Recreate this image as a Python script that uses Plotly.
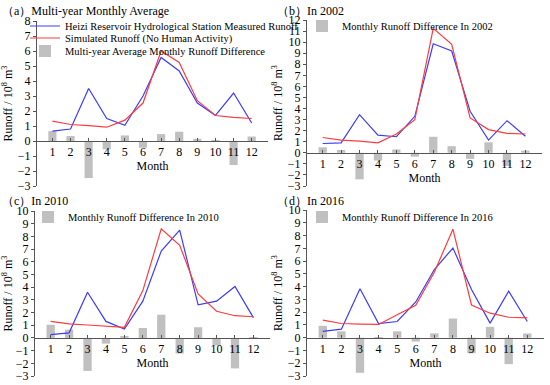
import plotly.graph_objects as go

months = list(range(1, 13))

a_meas = [0.66, 0.80, 3.50, 1.50, 1.05, 3.00, 5.57, 4.67, 2.53, 1.70, 3.20, 1.20]
a_sim = [1.32, 1.10, 1.03, 0.92, 1.39, 2.53, 6.00, 5.24, 2.69, 1.70, 1.58, 1.50]
a_diff = [0.66, 0.33, -2.47, -0.55, 0.37, -0.45, 0.46, 0.62, 0.15, 0.02, -1.60, 0.30]

b_meas = [0.84, 0.90, 3.45, 1.60, 1.45, 3.30, 9.85, 9.20, 3.75, 1.15, 2.90, 1.50]
b_sim = [1.38, 1.15, 1.05, 0.90, 1.70, 3.00, 11.25, 9.80, 3.15, 2.10, 1.75, 1.70]
b_diff = [0.50, 0.25, -2.40, -0.70, 0.30, -0.35, 1.45, 0.60, -0.55, 0.95, -1.20, 0.20]

c_meas = [0.26, 0.40, 3.60, 1.30, 0.70, 2.90, 6.85, 8.50, 2.60, 2.90, 4.05, 1.60]
c_sim = [1.30, 1.10, 1.02, 0.91, 0.84, 3.73, 8.60, 7.30, 3.47, 2.10, 1.75, 1.67]
c_diff = [1.04, 0.65, -2.60, -0.45, 0.13, 0.78, 1.83, -1.23, 0.84, -0.60, -2.40, 0.05]

d_meas = [0.50, 0.67, 3.83, 1.10, 1.27, 2.80, 5.34, 7.02, 3.78, 1.14, 3.65, 1.27]
d_sim = [1.37, 1.11, 1.06, 1.04, 1.79, 2.54, 5.13, 8.50, 2.56, 1.92, 1.60, 1.55]
d_diff = [0.93, 0.50, -2.75, 0.02, 0.50, -0.30, 0.34, 1.50, -1.22, 0.85, -2.07, 0.33]

panel_titles = ["（a）Multi-year Monthly Average", "（b）In 2002", "（c）In 2010", "（d）In 2016"]
diff_names = ["Multi-year Average Monthly Runoff Difference",
              "Monthly Runoff Difference In 2002",
              "Monthly Runoff Difference In 2010",
              "Monthly Runoff Difference In 2016"]
meas_name = "Heizi Reservoir Hydrological Station Measured Runoff"
sim_name = "Simulated Runoff (No Human Activity)"

W, H = 550, 385


def px_x(v):
    return v / W


def px_y(v):
    return 1 - v / H


panels = [
    dict(meas=a_meas, sim=a_sim, diff=a_diff, yr=[-3, 8], xd=[37, 268], yd=[186, 21],
         title_xy=(0, 11), leg_x=25, leg_y=[26, 38, 51]),
    dict(meas=b_meas, sim=b_sim, diff=b_diff, yr=[-3, 12], xd=[307, 542], yd=[186, 20],
         title_xy=(275, 11), leg_x=302, leg_y=[26]),
    dict(meas=c_meas, sim=c_sim, diff=c_diff, yr=[-3, 10], xd=[35, 270], yd=[376, 211],
         title_xy=(0, 201), leg_x=28, leg_y=[217]),
    dict(meas=d_meas, sim=d_sim, diff=d_diff, yr=[-3, 10], xd=[307, 544], yd=[376, 210],
         title_xy=(275, 201), leg_x=302, leg_y=[217]),
]

FONT = "Liberation Serif, Times New Roman, serif"
BLUE = "#3c3cff"
RED = "#ff3c3c"
GREY = "#c0c0c0"
AXC = "#555555"

fig = go.Figure()
layout = dict(
    width=W, height=H,
    margin=dict(l=0, r=0, t=0, b=0, autoexpand=False),
    paper_bgcolor="white", plot_bgcolor="white",
    font=dict(family=FONT, size=12, color="black"),
    showlegend=True,
)

leg_count = 0


def new_legend(x, y):
    global leg_count
    leg_count += 1
    key = "legend" if leg_count == 1 else f"legend{leg_count}"
    layout[key] = dict(x=px_x(x), y=px_y(y), xanchor="left", yanchor="middle",
                       bgcolor="rgba(0,0,0,0)", font=dict(size=10.5, family=FONT),
                       tracegroupgap=0, itemwidth=30, borderwidth=0)
    return key


for i, p in enumerate(panels):
    n = i + 1
    xa = "x" if n == 1 else f"x{n}"
    ya = "y" if n == 1 else f"y{n}"
    if n == 1:
        lg_meas = new_legend(p["leg_x"], p["leg_y"][0])
        lg_sim = new_legend(p["leg_x"], p["leg_y"][1])
        lg_diff = new_legend(p["leg_x"], p["leg_y"][2])
    else:
        lg_diff = new_legend(p["leg_x"], p["leg_y"][0])
        lg_meas = lg_diff
        lg_sim = lg_diff
    fig.add_trace(go.Scatter(x=months, y=p["meas"], mode="lines", name=meas_name,
                             line=dict(color=BLUE, width=1.2), xaxis=xa, yaxis=ya, legend=lg_meas,
                             showlegend=(n == 1)))
    fig.add_trace(go.Scatter(x=months, y=p["sim"], mode="lines", name=sim_name,
                             line=dict(color=RED, width=1.2), xaxis=xa, yaxis=ya, legend=lg_sim,
                             showlegend=(n == 1)))
    fig.add_trace(go.Bar(x=months, y=p["diff"], name=diff_names[i],
                         marker=dict(color=GREY, line=dict(width=0)),
                         width=0.45, xaxis=xa, yaxis=ya, legend=lg_diff, showlegend=True))
    y0, y1 = p["yr"]
    yd = [px_y(p["yd"][0]), px_y(p["yd"][1])]
    xd = [px_x(p["xd"][0]), px_x(p["xd"][1])]
    zero_pos = yd[0] + (yd[1] - yd[0]) * (0 - y0) / (y1 - y0)
    xkey = "xaxis" if n == 1 else f"xaxis{n}"
    ykey = "yaxis" if n == 1 else f"yaxis{n}"
    layout[xkey] = dict(domain=xd, range=[0.15, 12.9], anchor="free", position=zero_pos,
                        tickmode="array", tickvals=months, ticks="inside", ticklen=3, tickcolor=AXC,
                        showline=True, linecolor=AXC, linewidth=1, showgrid=False, zeroline=False,
                        automargin=False, tickfont=dict(size=12),
                        title=dict(text="Month", font=dict(size=12), standoff=2))
    layout[ykey] = dict(domain=yd, range=p["yr"], dtick=1, ticks="outside", ticklen=3, tickcolor=AXC,
                        showline=True, linecolor=AXC, linewidth=1, showgrid=False, zeroline=False,
                        anchor=xa, automargin=False, tickfont=dict(size=12),
                        title=dict(text="Runoff / 10<sup>8</sup> m<sup>3</sup>", font=dict(size=12),
                                   standoff=2))
    tx, ty = p["title_xy"]
    fig.add_annotation(text=panel_titles[i], xref="paper", yref="paper",
                       x=px_x(tx), y=px_y(ty), xanchor="left", yanchor="middle",
                       showarrow=False, font=dict(size=12, family=FONT))

fig.update_layout(**layout)
fig.write_html("out.html", config={"displayModeBar": False},
               post_script="document.body.style.margin='0';")
